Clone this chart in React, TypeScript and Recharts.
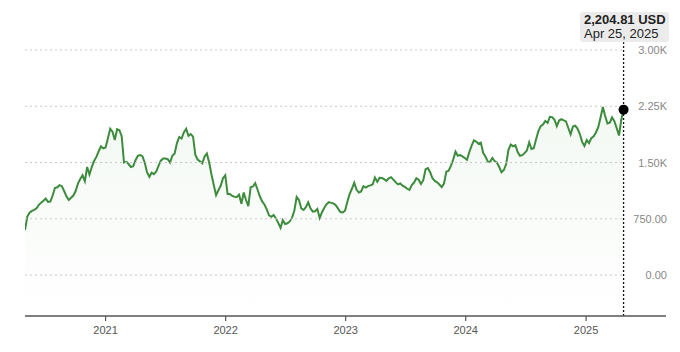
import {
  ComposedChart,
  Area,
  XAxis,
  YAxis,
  ReferenceLine,
  ReferenceDot
} from "recharts";

const DAY = 86400000;
const startDate = Date.UTC(2020, 4, 1);
const endDate = Date.UTC(2025, 8, 1);

// weekly closes in USD
const closes = [
  600, 780, 830, 855, 870, 890, 935, 965, 990, 1020,
  975, 980, 1060, 1160, 1170, 1198, 1185, 1120, 1050, 1000,
  1030, 1060, 1120, 1220, 1280, 1330, 1250, 1440, 1340, 1440,
  1520, 1575, 1650, 1715, 1690, 1700, 1820, 1950, 1910, 1800,
  1944, 1930, 1850, 1500, 1510, 1480, 1440, 1450, 1530, 1590,
  1600, 1585, 1500, 1370, 1310, 1365, 1345, 1380, 1455, 1525,
  1553, 1553, 1544, 1500, 1590, 1620, 1760, 1840, 1820, 1900,
  1950, 1855, 1880, 1845, 1600, 1540, 1515, 1490, 1580, 1620,
  1500, 1340, 1200, 1065, 1130, 1190, 1290, 1330, 1080, 1080,
  1055, 1042, 1040, 1070, 950, 1100, 1000, 920, 1170, 1180,
  1225, 1140, 1050, 982, 940, 875, 795, 776, 800, 755,
  695, 629, 730, 680, 690, 715, 765, 860, 1040, 1000,
  888, 867, 905, 970, 890, 845, 850, 880, 760, 838,
  898, 945, 972, 962, 955, 932, 885, 840, 835, 858,
  975, 1080, 1150, 1230, 1140, 1100, 1115, 1185, 1165, 1185,
  1195, 1207, 1300, 1245, 1295, 1293, 1278, 1255, 1290, 1305,
  1272, 1238, 1208, 1220, 1192, 1175, 1150, 1134, 1200, 1233,
  1290, 1270, 1215, 1265, 1410, 1425, 1370, 1290, 1255, 1236,
  1207, 1172, 1220, 1378, 1390, 1455, 1540, 1645, 1590, 1600,
  1582, 1560, 1535, 1640, 1725, 1795, 1780, 1750, 1765, 1630,
  1580, 1515, 1509, 1560, 1520, 1498, 1440, 1370, 1400, 1480,
  1670, 1740, 1715, 1730, 1640, 1590, 1598, 1625, 1660, 1770,
  1680, 1690, 1810, 1920, 1985, 2005, 2055, 2030, 2110, 2105,
  2070, 1985, 2060, 2077, 2062, 2048, 1960, 1875, 1980, 1990,
  1952, 1880, 1775, 1722, 1800, 1760, 1825, 1850, 1900, 1970,
  2100, 2241, 2120, 2020, 2030, 2100, 2050, 1960, 1860, 2070,
  2204.81
];

const yearTicks = [2021, 2022, 2023, 2024, 2025];
const priceTicks = [0, 750, 1500, 2250, 3000];

const data = closes.map((close, i) => ({ date: startDate + i * 7 * DAY, close }));
const last = data[data.length - 1];

const fmtPrice = (v: number) =>
  v >= 1000 ? (v / 1000).toFixed(2) + "K" : v.toFixed(2);

const PriceTick = (props: any) => (
  <text
    x={667}
    y={props.y}
    textAnchor="end"
    dominantBaseline="central"
    fontSize={11}
    fill="#888"
  >
    {fmtPrice(props.payload.value)}
  </text>
);

export default function App() {
  return (
    <div
      style={{
        position: "absolute",
        left: 0,
        top: 0,
        width: 680,
        height: 352,
        fontFamily: "'Liberation Sans', Arial, sans-serif"
      }}
    >
      <ComposedChart
        width={680}
        height={352}
        data={data}
        margin={{ top: 50, right: 14, bottom: 6, left: 25 }}
      >
        <defs>
          <linearGradient id="fillGreen" x1="0" y1="0" x2="0" y2="1">
            <stop offset="0%" stopColor="#4c9a47" stopOpacity={0.11} />
            <stop offset="100%" stopColor="#4c9a47" stopOpacity={0} />
          </linearGradient>
        </defs>

        <XAxis
          dataKey="date"
          type="number"
          scale="time"
          domain={[startDate, endDate]}
          ticks={yearTicks.map((y) => Date.UTC(y, 0, 1))}
          tickFormatter={(t: number) => String(new Date(t).getUTCFullYear())}
          axisLine={{ stroke: "#555", strokeWidth: 1.5 }}
          tickLine={{ stroke: "#555", strokeWidth: 1.2 }}
          tickSize={5}
          tickMargin={5}
          tick={{ fontSize: 11, fill: "#555" }}
          height={30}
          allowDataOverflow
        />
        <YAxis
          orientation="right"
          mirror
          domain={[-546, 3000]}
          ticks={priceTicks}
          axisLine={false}
          tickLine={false}
          tick={<PriceTick />}
          allowDataOverflow
        />

        {priceTicks.map((v) => (
          <ReferenceLine
            key={v}
            segment={[
              { x: startDate, y: v },
              { x: last.date, y: v }
            ]}
            stroke="#c8c8c8"
            strokeDasharray="2 3"
            strokeWidth={1}
          />
        ))}

        <Area
          type="linear"
          dataKey="close"
          stroke="#3d8b3d"
          strokeWidth={2}
          fill="url(#fillGreen)"
          baseValue={-546}
          dot={false}
          activeDot={false}
          isAnimationActive={false}
        />

        <ReferenceLine
          segment={[
            { x: last.date, y: -546 },
            { x: last.date, y: 3104 }
          ]}
          stroke="#111"
          strokeWidth={1.3}
          strokeDasharray="2 2"
          ifOverflow="visible"
        />
        <ReferenceDot
          x={last.date}
          y={last.close}
          r={5}
          fill="#000"
          stroke="none"
        />
      </ComposedChart>

      <div
        style={{
          position: "absolute",
          left: 580,
          top: 12,
          width: 82,
          padding: "1px 3px 1px 4px",
          background: "#ebebeb",
          borderRadius: 3,
          color: "#222",
          fontSize: 13,
          lineHeight: "14px",
          whiteSpace: "nowrap"
        }}
      >
        <div style={{ fontWeight: 700 }}>
          {last.close.toLocaleString("en-US", { minimumFractionDigits: 2 })} USD
        </div>
        <div>Apr 25, 2025</div>
      </div>
    </div>
  );
}
